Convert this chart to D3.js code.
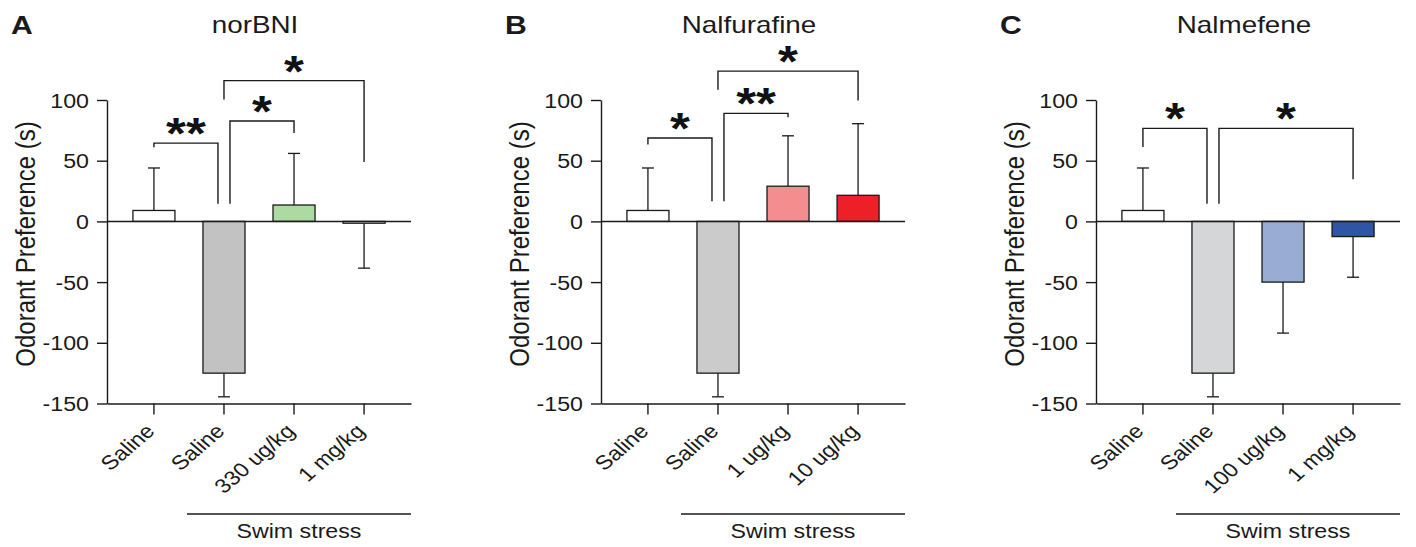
<!DOCTYPE html>
<html>
<head>
<meta charset="utf-8">
<script src="https://cdn.jsdelivr.net/npm/d3@7"></script>
<style>
body { margin: 0; background: #fff; }
svg { display: block; font-family: Arial, "Liberation Sans", sans-serif; }
</style>
</head>
<body>
<svg width="1416" height="547"></svg>
<script>
const panelLetters = ['A', 'B', 'C'];
const titles = ['norBNI', 'Nalfurafine', 'Nalmefene'];
const yTicks = [-150, -100, -50, 0, 50, 100];

const labelsA = ['Saline', 'Saline', '330 ug/kg', '1 mg/kg'];
const labelsB = ['Saline', 'Saline', '1 ug/kg', '10 ug/kg'];
const labelsC = ['Saline', 'Saline', '100 ug/kg', '1 mg/kg'];

const meansA = [9, -125, 13.5, -1.5];
const meansB = [9, -125, 29, 21.5];
const meansC = [9, -125, -50, -12.5];

// SD, drawn away from zero only
const sdA = [35, 19.5, 42.5, 37];
const sdB = [35, 19.5, 41.5, 59];
const sdC = [35, 19.5, 42, 33.5];

// [from, to, top, left leg end, right leg end, label] in data units
const bracketsA = [[0, 1, 64.5, 61, 14.6, '**'], [1, 2, 82.7, 14.6, 72.8, '*'], [1, 3, 116, 100.5, 49, '*']];
const bracketsB = [[0, 1, 68.7, 63.3, 16.7, '*'], [1, 2, 89, 16.7, 85.7, '**'], [1, 3, 123.8, 108.5, 99.5, '*']];
const bracketsC = [[0, 1, 76.6, 61.2, 14.6, '*'], [1, 3, 76.6, 14.6, 34.7, '*']];

const fillsA = ['#ffffff', '#c2c2c2', '#acdba2', '#ffffff'];
const fillsB = ['#ffffff', '#cbcbcb', '#f48e8e', '#ed2027'];
const fillsC = ['#ffffff', '#d5d6d8', '#98acd4', '#2f55a5'];

const panels = [
    {labels: labelsA, means: meansA, sd: sdA, brackets: bracketsA, fills: fillsA},
    {labels: labelsB, means: meansB, sd: sdB, brackets: bracketsB, fills: fillsB},
    {labels: labelsC, means: meansC, sd: sdC, brackets: bracketsC, fills: fillsC}
];

const svg = d3.select('svg');
const sx = 1.16;          // the source figure is stretched a bit sideways
const ink = '#1a1a1a';
const axisX = [107, 601, 1096];
const plotW = 304;
const y = d3.scaleLinear().domain([-150, 100]).range([403.5, 100]);

panels.forEach((p, k) => {
    const g = svg.append('g').attr('transform', `translate(${axisX[k]},0)`);
    const x = d3.scaleBand().domain(d3.range(p.means.length)).range([0, plotW])
        .paddingInner(0.4).paddingOuter(0.37);
    const cx = i => x(i) + x.bandwidth() / 2;

    // letter + title
    g.append('text').text(panelLetters[k])
        .attr('transform', `translate(-96,33.5) scale(${sx},1)`)
        .style('font-size', '26px').style('font-weight', 'bold').attr('fill', ink);
    g.append('text').text(titles[k])
        .attr('transform', `translate(148,32.5) scale(${sx},1)`)
        .attr('text-anchor', 'middle').style('font-size', '24px').attr('fill', ink);

    // y axis (plain hyphen for negatives, like the original)
    const ya = g.append('g')
        .call(d3.axisLeft(y).tickValues(yTicks).tickSize(10).tickSizeOuter(0).tickFormat(d => String(d)))
        .attr('font-size', null).attr('font-family', null);
    ya.selectAll('text').attr('x', null).attr('dy', '0.35em')
        .attr('transform', `translate(-18,0) scale(${sx},1)`)
        .style('font-size', '20px').attr('fill', ink);

    g.append('text').text('Odorant Preference (s)')
        .attr('transform', `translate(-72,244) scale(${sx},1) rotate(-90)`)
        .attr('text-anchor', 'middle').style('font-size', '24px').attr('fill', ink);

    // x axis
    const xa = g.append('g').attr('transform', `translate(0,${y(-150)})`)
        .call(d3.axisBottom(x).tickSize(11).tickSizeOuter(0).tickFormat(i => p.labels[i]))
        .attr('font-size', null).attr('font-family', null);
    xa.selectAll('text').attr('y', null).attr('dy', null)
        .attr('text-anchor', 'end')
        .attr('transform', `translate(2,29) scale(${sx},1) rotate(-45)`)
        .style('font-size', '20px').attr('fill', ink);

    g.selectAll('.domain, .tick line').attr('stroke', ink).attr('stroke-width', 1.4);

    // bars
    g.selectAll('rect.bar').data(p.means).join('rect').attr('class', 'bar')
        .attr('x', (d, i) => x(i))
        .attr('width', x.bandwidth())
        .attr('y', d => y(Math.max(0, d)))
        .attr('height', d => Math.abs(y(d) - y(0)))
        .attr('fill', (d, i) => p.fills[i])
        .attr('stroke', ink).attr('stroke-width', 1.3);

    // error bars
    const err = g.selectAll('g.err').data(p.means).join('g').attr('class', 'err');
    const tip = (d, i) => y(d + Math.sign(d) * p.sd[i]);
    err.append('line')
        .attr('x1', (d, i) => cx(i)).attr('x2', (d, i) => cx(i))
        .attr('y1', d => y(d)).attr('y2', tip);
    err.append('line')
        .attr('x1', (d, i) => cx(i) - 6).attr('x2', (d, i) => cx(i) + 6)
        .attr('y1', tip).attr('y2', tip);
    err.selectAll('line').attr('stroke', ink).attr('stroke-width', 1.3);

    // zero line
    g.append('line').attr('x1', 0).attr('x2', plotW)
        .attr('y1', y(0)).attr('y2', y(0))
        .attr('stroke', ink).attr('stroke-width', 1.5);

    // brackets: legs sharing a bar and overlapping get pushed inward a bit
    const legs = [];
    p.brackets.forEach(b => {
        legs.push({bar: b[0], lo: b[3], hi: b[2], b});
        legs.push({bar: b[1], lo: b[4], hi: b[2], b});
    });
    const nudge = (b, bar, dir) => {
        const me = legs.find(l => l.b === b && l.bar === bar);
        const hit = legs.some(l => l !== me && l.bar === bar && l.lo < me.hi && me.lo < l.hi);
        return hit ? dir * 6 : 0;
    };
    p.brackets.forEach(b => {
        const x1 = cx(b[0]) + nudge(b, b[0], 1);
        const x2 = cx(b[1]) + nudge(b, b[1], -1);
        g.append('path')
            .attr('d', `M${x1},${y(b[3])}V${y(b[2])}H${x2}V${y(b[4])}`)
            .attr('fill', 'none').attr('stroke', ink).attr('stroke-width', 1.4);
        g.append('text').text(b[5])
            .attr('transform', `translate(${(x1 + x2) / 2},${y(b[2]) + 6}) scale(${sx},1)`)
            .attr('text-anchor', 'middle')
            .style('font-size', '44px').style('font-weight', 'bold').attr('fill', '#111');
    });

    // swim stress group
    const sx0 = x(1) - 16;
    g.append('line').attr('x1', sx0).attr('x2', plotW)
        .attr('y1', 514).attr('y2', 514)
        .attr('stroke', ink).attr('stroke-width', 1.5);
    g.append('text').text('Swim stress')
        .attr('transform', `translate(${(sx0 + plotW) / 2},538) scale(${sx},1)`)
        .attr('text-anchor', 'middle').style('font-size', '20px').attr('fill', ink);
});
</script>
</body>
</html>
